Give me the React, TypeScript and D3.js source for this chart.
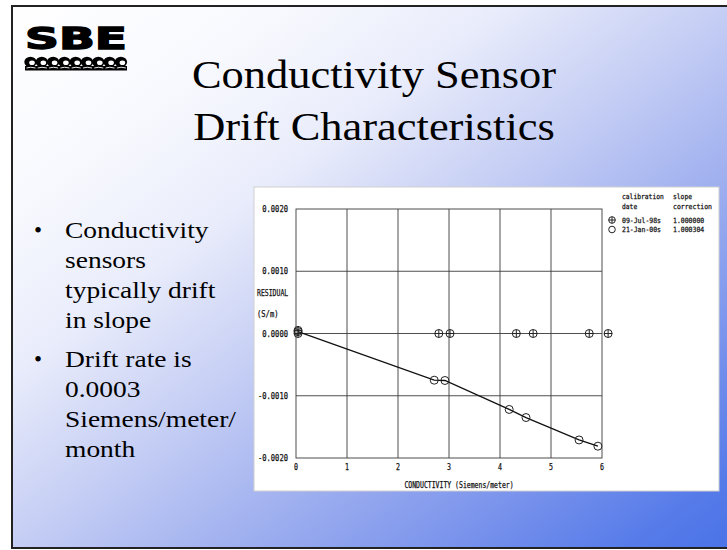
import * as d3 from 'd3';

// series 1: calibration 09-Jul-98s (crossed circles)
const crossX = [0.04, 0.04, 2.8, 3.02, 4.32, 4.65, 5.75, 6.12];
const crossY = [0.00005, 0.0, 0.0, 0.0, 0.0, 0.0, 0.0, 0.0];

// series 2: calibration 21-Jan-00s (open circles + line)
const circX = [0.04, 2.71, 2.92, 4.18, 4.51, 5.55, 5.92];
const circY = [0.00003, -0.00075, -0.000755, -0.00122, -0.00135, -0.00171, -0.00181];

const xTicks = [0, 1, 2, 3, 4, 5, 6];
const yTicks = [0.002, 0.001, 0, -0.001, -0.002];
const yTickLabels = ['0.0020', '0.0010', '0.0000', '-0.0010', '-0.0020'];

const legendDates = ['09-Jul-98s', '21-Jan-00s'];
const legendSlopes = ['1.000000', '1.000304'];

const bullets = [
  ['Conductivity', 'sensors', 'typically drift', 'in slope'],
  ['Drift rate is', '0.0003', 'Siemens/meter/', 'month'],
];

const MONO = "'DejaVu Sans Mono', 'Liberation Mono', monospace";
const SERIF = "'Liberation Serif', 'Times New Roman', serif";

// narrow mono text, squeezed to a per-char width
function T({ x, y, s, cw, size = 8.5, anchor = 'start' }: any) {
  return (
    <text x={x} y={y} fontFamily={MONO} fontSize={size} textAnchor={anchor}
      textLength={s.length * cw} lengthAdjust="spacingAndGlyphs" fill="#111"
      stroke="#111" strokeWidth={0.25}>
      {s}
    </text>
  );
}

function Cross({ cx, cy, r }: any) {
  return (
    <g stroke="#222" strokeWidth={1} fill="none">
      <circle cx={cx} cy={cy} r={r} />
      <line x1={cx - r} x2={cx + r} y1={cy} y2={cy} />
      <line x1={cx} x2={cx} y1={cy - r} y2={cy + r} />
    </g>
  );
}

function Ring({ cx, cy, r }: any) {
  return <circle cx={cx} cy={cy} r={r} stroke="#222" strokeWidth={1} fill="none" />;
}

function Logo() {
  const waves = d3.range(9);
  return (
    <g>
      <text x={25} y={49} fontFamily="'DejaVu Sans', sans-serif" fontWeight={900} fontSize={31}
        textLength={102} lengthAdjust="spacingAndGlyphs" fill="#000" stroke="#000" strokeWidth={1.4}>
        SBE
      </text>
      <rect x={25} y={66} width={102} height={4.5} fill="#000" />
      {waves.map((i) => {
        const cx = 30.5 + i * 11.3;
        return (
          <g key={i}>
            <ellipse cx={cx} cy={62} rx={6.2} ry={5.2} fill="#000" />
            <ellipse cx={cx + 1.5} cy={62.8} rx={2.8} ry={2.3} fill="#fff" />
            <path d={`M${cx - 4},${68} Q${cx},${66.5} ${cx + 5},${68}`} stroke="#fff" strokeWidth={0.9} fill="none" />
          </g>
        );
      })}
    </g>
  );
}

export default function App() {
  const x = d3.scaleLinear().domain([0, 6]).range([296, 602]);
  const y = d3.scaleLinear().domain([-0.002, 0.002]).range([458, 209]);

  const line = d3.line<number>()
    .x((_, i) => x(circX[i]))
    .y((_, i) => y(circY[i]));

  const gridX = xTicks.slice(1, -1);
  const gridY = yTicks.slice(1, -1);

  return (
    <svg width={727} height={550} style={{ position: 'absolute', left: 0, top: 0 }}>
      <defs>
        <linearGradient id="bg" gradientUnits="userSpaceOnUse" x1={0} y1={0} x2={526} y2={701}>
          <stop offset="0" stopColor="#ffffff" />
          <stop offset="0.2" stopColor="#f8f9fe" />
          <stop offset="0.35" stopColor="#e9ecfb" />
          <stop offset="0.51" stopColor="#c4cdf4" />
          <stop offset="0.67" stopColor="#9cadef" />
          <stop offset="0.8" stopColor="#7b94ec" />
          <stop offset="0.93" stopColor="#567be9" />
          <stop offset="1" stopColor="#4b73e7" />
        </linearGradient>
      </defs>

      {/* slide */}
      <rect x={0} y={0} width={727} height={550} fill="#fff" />
      <rect x={12} y={6} width={727} height={542} fill="url(#bg)" />
      <path d="M727,6 L12,6 L12,548 L727,548" fill="none" stroke="#222" strokeWidth={2} />

      <Logo />

      {/* title */}
      {['Conductivity Sensor', 'Drift Characteristics'].map((s, i) => (
        <text key={s} transform={`translate(374,${88 + i * 52}) scale(1.14,1)`} textAnchor="middle"
          fontFamily={SERIF} fontSize={39} fill="#000">{s}</text>
      ))}

      {/* bullets */}
      {bullets.map((lines, bi) => (
        <g key={bi}>
          <text x={34} y={238 + bi * 129} fontFamily={SERIF} fontSize={23} fill="#000">•</text>
          {lines.map((s, li) => (
            <text key={li} transform={`translate(65,${238 + bi * 129 + li * 30}) scale(1.17,1)`}
              fontFamily={SERIF} fontSize={23.5} fill="#000">{s}</text>
          ))}
        </g>
      ))}

      {/* chart panel */}
      <rect x={254} y={187} width={465} height={304} fill="#fff" stroke="#cfcfcf" strokeWidth={1} />

      {/* grid */}
      <g stroke="#3a3a3a" strokeWidth={0.9}>
        {gridX.map((t) => <line key={t} x1={x(t)} x2={x(t)} y1={y(0.002)} y2={y(-0.002)} />)}
        {gridY.map((t) => <line key={t} x1={x(0)} x2={x(6)} y1={y(t)} y2={y(t)} />)}
        <rect x={x(0)} y={y(0.002)} width={x(6) - x(0)} height={y(-0.002) - y(0.002)} fill="none" />
      </g>

      {/* y ticks */}
      {yTicks.map((t, i) => (
        <T key={t} x={288} y={y(t) + 3} s={yTickLabels[i]} cw={4.3} anchor="end" />
      ))}
      <T x={257} y={296} s="RESIDUAL" cw={3.9} />
      <T x={257} y={317} s="(S/m)" cw={4.3} />

      {/* x ticks */}
      {xTicks.map((t) => (
        <T key={t} x={x(t)} y={470} s={String(t)} cw={4} anchor="middle" />
      ))}
      <T x={459} y={488} s="CONDUCTIVITY (Siemens/meter)" cw={3.9} size={8} anchor="middle" />

      {/* data */}
      <path d={line(circX) || ''} fill="none" stroke="#111" strokeWidth={1.3} />
      {circX.map((v, i) => <Ring key={i} cx={x(v)} cy={y(circY[i])} r={4} />)}
      {crossX.map((v, i) => <Cross key={i} cx={x(v)} cy={y(crossY[i])} r={4} />)}

      {/* legend */}
      <T x={622} y={199} s="calibration" cw={3.8} size={7.2} />
      <T x={622} y={209} s="date" cw={3.8} size={7.2} />
      <T x={673} y={199} s="slope" cw={3.8} size={7.2} />
      <T x={673} y={209} s="correction" cw={3.9} size={7.2} />
      {legendDates.map((d, i) => (
        <g key={d}>
          {i === 0 ? <Cross cx={612} cy={220 + i * 9.5} r={3.3} /> : <Ring cx={612} cy={220 + i * 9.5} r={3.3} />}
          <T x={622} y={222.5 + i * 9.5} s={d} cw={3.9} size={7.2} />
          <T x={673} y={222.5 + i * 9.5} s={legendSlopes[i]} cw={3.9} size={7.2} />
        </g>
      ))}
    </svg>
  );
}
